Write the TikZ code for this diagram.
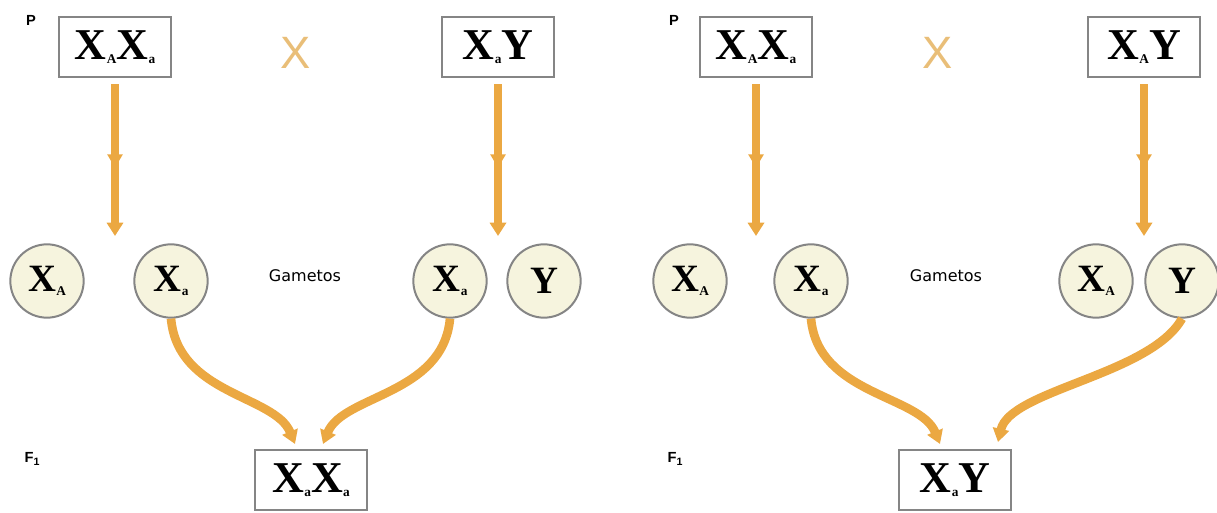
\documentclass[tikz,border=0pt]{standalone}
\usepackage{fontspec}
\setmainfont{Liberation Serif}
\newfontfamily\gsans{DejaVu Sans}
\newfontfamily\lsans{Liberation Sans}
\usetikzlibrary{arrows.meta,decorations.markings}
\definecolor{arr}{HTML}{EBA842}
\definecolor{crosscol}{HTML}{E9BE78}
\definecolor{cream}{HTML}{F6F4DE}
\definecolor{bord}{HTML}{858585}
\newcommand{\gX}[1]{X\kern0.3pt\raisebox{-3pt}{\fontsize{10}{10}\selectfont #1}}
\begin{document}
\begin{tikzpicture}[x=0.75pt,y=-0.75pt,
  geno/.style={draw=bord, line width=2pt, fill=white, minimum width=84pt, minimum height=45pt, inner sep=0pt, font=\fontsize{33}{33}\selectfont\bfseries},
  gam/.style={circle, draw=bord, line width=1.5pt, fill=cream, minimum size=55pt, inner sep=0pt, font=\fontsize{29}{29}\selectfont\bfseries},
  flow/.style={draw=arr, line width=6.5pt, -{Triangle[length=10pt,width=12pt]}},
  midtip/.style={postaction={decorate}, decoration={markings, mark=at position 0.55 with {\arrow[arr]{Triangle[length=10pt,width=11pt]}}}},
  lbl/.style={font=\lsans\bfseries\fontsize{11}{11}\selectfont},
  crossmark/.style={text=crosscol, font=\lsans\fontsize{34}{34}\selectfont},
  gtext/.style={font=\gsans\fontsize{12}{12}\selectfont}
]
\useasboundingbox (0,0) rectangle (1217,513);

% ---------- left panel ----------
\node[lbl] (pL) at (31,20) {P};
\node[geno] (aL) at (115,47) {\gX{A}\gX{a}};
\node[crossmark] (xL) at (296,53) {X};
\node[geno] (bL) at (498,47) {\gX{a}Y};

\node[gam] (g1L) at (47,281) {\gX{A}};
\node[gam] (g2L) at (171,281) {\gX{a}};
\node[gtext] (gmL) at (305,276) {Gametos};
\node[gam] (g3L) at (450,281) {\gX{a}};
\node[gam] (g4L) at (544,281) {Y};

\node[lbl] (fL) at (32,459) {F\raisebox{-2pt}{\fontsize{8}{8}\selectfont 1}};
\node[geno] (cL) at (311,480) {\gX{a}\gX{a}};

\coordinate (eaL) at (115,236);
\coordinate (ebL) at (498,236);
\draw[flow,midtip] (aL.south) ++(0,6) -- (eaL);
\draw[flow,midtip] (bL.south) ++(0,6) -- (ebL);

\coordinate (c1L) at (295,444);
\coordinate (c2L) at (323,444);
\draw[flow] (g2L.south) .. controls (178,395) and (275,395) .. (c1L);
\draw[flow] (g3L.south) .. controls (443,395) and (343,395) .. (c2L);

% ---------- right panel ----------
\node[lbl] (pR) at (674,20) {P};
\node[geno] (aR) at (756,47) {\gX{A}\gX{a}};
\node[crossmark] (xR) at (938,53) {X};
\node[geno] (bR) at (1144,47) {\gX{A}Y};

\node[gam] (g1R) at (690,281) {\gX{A}};
\node[gam] (g2R) at (811,281) {\gX{a}};
\node[gtext] (gmR) at (946,276) {Gametos};
\node[gam] (g3R) at (1096,281) {\gX{A}};
\node[gam] (g4R) at (1182,281) {Y};

\node[lbl] (fR) at (675,459) {F\raisebox{-2pt}{\fontsize{8}{8}\selectfont 1}};
\node[geno] (cR) at (955,480) {\gX{a}Y};

\coordinate (eaR) at (756,236);
\coordinate (ebR) at (1144,236);
\draw[flow,midtip] (aR.south) ++(0,6) -- (eaR);
\draw[flow,midtip] (bR.south) ++(0,6) -- (ebR);

\coordinate (c1R) at (940,444);
\coordinate (c2R) at (998,442);
\draw[flow] (g2R.south) .. controls (818,395) and (920,395) .. (c1R);
\draw[flow] (g4R.south) .. controls (1150,375) and (1010,390) .. (c2R);
\end{tikzpicture}
\end{document}
